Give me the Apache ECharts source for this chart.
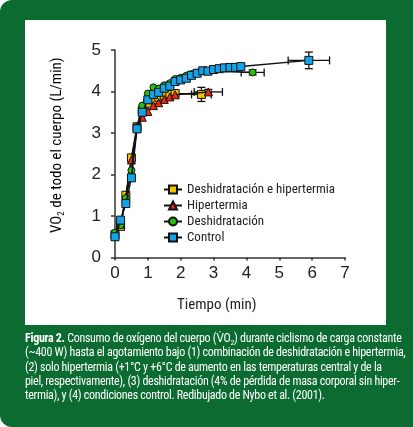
<!DOCTYPE html>
<html>
<head>
<meta charset="utf-8">
<script src="https://cdn.jsdelivr.net/npm/echarts@6/dist/echarts.min.js"></script>
<style>
  html,body{margin:0;padding:0;background:#fff;}
  #frame{position:relative;width:413px;height:427px;background:#0c6b30;border-radius:12px 0 0 12px;overflow:hidden;}
  #panel{position:absolute;left:25px;top:20px;width:361px;height:305px;background:#fff;}
  #chart{position:absolute;left:0;top:0;width:413px;height:427px;}
  #caption{position:absolute;left:25px;top:331px;width:380px;color:#fff;white-space:nowrap;
    font-family:"Liberation Sans Narrow","Roboto Condensed","DejaVu Sans Condensed",sans-serif;
    font-size:12px;letter-spacing:-0.3px;line-height:14.3px;}
  #caption sub{font-size:8px;line-height:0;}
</style>
</head>
<body>
<div id="frame">
  <div id="panel"></div>
  <div id="chart"></div>
  <div id="caption"><b>Figura 2.</b> Consumo de oxígeno del cuerpo (V̇O<sub>2</sub>) durante ciclismo de carga constante<br>(~400 W) hasta el agotamiento bajo (1) combinación de deshidratación e hipertermia,<br>(2) solo hipertermia (+1°C y +6°C de aumento en las temperaturas central y de la<br>piel, respectivamente), (3) deshidratación (4% de pérdida de masa corporal sin hiper-<br>termia), y (4) condiciones control. Redibujado de Nybo et al. (2001).</div>
</div>
<script>
// nombres de las series (orden de la leyenda)
var seriesNames = ['Deshidratación e hipertermia', 'Hipertermia', 'Deshidratación', 'Control'];
var seriesColors = ['#f5c400', '#ee2a0c', '#22c40e', '#12a3e8'];
var seriesSymbols = ['rect', 'triangle', 'circle', 'rect'];

// tiempo (min) y VO2 (L/min) de cada condición
var timeDH  = [0, 0.17, 0.33, 0.5, 0.67, 0.83, 1.0, 1.17, 1.33, 1.5, 1.67, 1.83, 2.63];
var vo2DH   = [0.55, 0.75, 1.50, 2.40, 3.15, 3.55, 3.72, 3.80, 3.86, 3.90, 3.93, 3.95, 3.93];

var timeHip = [0, 0.17, 0.33, 0.5, 0.67, 0.83, 1.0, 1.17, 1.33, 1.5, 1.67, 1.83, 2.84];
var vo2Hip  = [0.55, 0.80, 1.45, 2.35, 3.12, 3.38, 3.52, 3.66, 3.73, 3.81, 3.87, 3.92, 3.99];

var timeDeh = [0, 0.17, 0.33, 0.5, 0.67, 0.83, 1.0, 1.17, 1.33, 1.5, 1.67, 1.83, 2.0, 2.17, 2.33, 2.5, 2.67, 4.19];
var vo2Deh  = [0.60, 0.78, 1.43, 2.10, 3.15, 3.66, 3.95, 4.10, 4.07, 4.15, 4.20, 4.30, 4.33, 4.38, 4.42, 4.45, 4.50, 4.46];

var timeCon = [0, 0.17, 0.33, 0.5, 0.67, 0.83, 1.0, 1.17, 1.33, 1.5, 1.67, 1.83, 2.0, 2.17, 2.33, 2.5, 2.67, 2.83, 3.0, 3.17, 3.33, 3.5, 3.67, 3.83, 5.9];
var vo2Con  = [0.50, 0.90, 1.30, 1.92, 3.10, 3.50, 3.80, 3.93, 3.98, 4.08, 4.13, 4.24, 4.28, 4.32, 4.39, 4.44, 4.50, 4.49, 4.53, 4.55, 4.57, 4.58, 4.58, 4.60, 4.75];

// barras de error del punto final (agotamiento)
var errTime = [2.63, 2.84, 4.19, 5.9];
var errVO2  = [3.93, 3.99, 4.46, 4.75];
var errXsd  = [0.30, 0.43, 0.35, 0.63];
var errYsd  = [0.17, 0.06, 0.06, 0.20];

var xTicks = [0, 1, 2, 3, 4, 5, 6, 7];
var yTicks = [0, 1, 2, 3, 4, 5];

var narrow = '"Liberation Sans Narrow","Roboto Condensed","DejaVu Sans Condensed",sans-serif';
var plain = '"Liberation Sans",Arial,sans-serif';

function pairs(t, v) {
	return t.map(function (x, i) { return [x, v[i]]; });
}

var allData = [pairs(timeDH, vo2DH), pairs(timeHip, vo2Hip), pairs(timeDeh, vo2Deh), pairs(timeCon, vo2Con)];

function renderErr(params, api) {
	var x = api.value(0), y = api.value(1), ex = api.value(2), ey = api.value(3);
	var l = api.coord([x - ex, y]), r = api.coord([x + ex, y]);
	var t = api.coord([x, y + ey]), b = api.coord([x, y - ey]);
	var c = 4;
	var st = {stroke: '#111', lineWidth: 1.3};
	return {
		type: 'group',
		children: [
			{type: 'line', shape: {x1: l[0], y1: l[1], x2: r[0], y2: r[1]}, style: st},
			{type: 'line', shape: {x1: l[0], y1: l[1] - c, x2: l[0], y2: l[1] + c}, style: st},
			{type: 'line', shape: {x1: r[0], y1: r[1] - c, x2: r[0], y2: r[1] + c}, style: st},
			{type: 'line', shape: {x1: t[0], y1: t[1], x2: b[0], y2: b[1]}, style: st},
			{type: 'line', shape: {x1: t[0] - c, y1: t[1], x2: t[0] + c, y2: t[1]}, style: st},
			{type: 'line', shape: {x1: b[0] - c, y1: b[1], x2: b[0] + c, y2: b[1]}, style: st}
		]
	};
}

var series = [{
	type: 'custom',
	renderItem: renderErr,
	data: errTime.map(function (x, i) { return [x, errVO2[i], errXsd[i], errYsd[i]]; }),
	z: 1,
	silent: true
}];

seriesNames.forEach(function (name, i) {
	series.push({
		name: name,
		type: 'line',
		data: allData[i],
		symbol: seriesSymbols[i],
		symbolSize: seriesSymbols[i] == 'circle' ? 7 : 8,
		showAllSymbol: true,
		lineStyle: {color: '#111', width: 1.5},
		itemStyle: {color: seriesColors[i], borderColor: '#111', borderWidth: 1},
		z: 2 + i,
		animation: false
	});
});

var chart = echarts.init(document.getElementById('chart'));
chart.setOption({
	animation: false,
	backgroundColor: 'transparent',
	grid: {left: 115, right: 68, top: 50, bottom: 169.5},
	legend: {
		data: seriesNames,
		orient: 'vertical',
		left: 158,
		top: 178,
		itemWidth: 18,
		itemHeight: 10,
		itemGap: 3,
		textStyle: {fontFamily: narrow, fontSize: 13, color: '#222'}
	},
	xAxis: {
		type: 'value',
		min: xTicks[0],
		max: xTicks[xTicks.length - 1],
		interval: 1,
		offset: 1.5,
		splitLine: {show: false},
		axisLine: {lineStyle: {color: '#333', width: 1.5}},
		axisTick: {length: 3, lineStyle: {color: '#333', width: 1.5}},
		axisLabel: {fontFamily: plain, fontSize: 17, color: '#222', margin: 6}
	},
	yAxis: {
		type: 'value',
		min: yTicks[0],
		max: yTicks[yTicks.length - 1],
		interval: 1,
		offset: 12,
		splitLine: {show: false},
		axisLine: {lineStyle: {color: '#333', width: 1.5}},
		axisTick: {length: 4, lineStyle: {color: '#333', width: 1.5}},
		axisLabel: {fontFamily: plain, fontSize: 17, color: '#222', margin: 2}
	},
	graphic: [{
		type: 'text',
		left: 177,
		top: 298,
		style: {text: 'Tiempo (min)', fontFamily: narrow, fontSize: 15, fill: '#222'}
	}, {
		type: 'text',
		x: 49,
		y: 233,
		rotation: Math.PI / 2,
		style: {
			text: '{a|VO}{s|2}{a| de todo el cuerpo (L/min)}',
			rich: {
				a: {fontFamily: narrow, fontSize: 15, color: '#222'},
				s: {fontFamily: narrow, fontSize: 9, color: '#222', padding: [8, 0, 0, 0]}
			}
		}
	}],
	series: series
});
</script>
</body>
</html>
